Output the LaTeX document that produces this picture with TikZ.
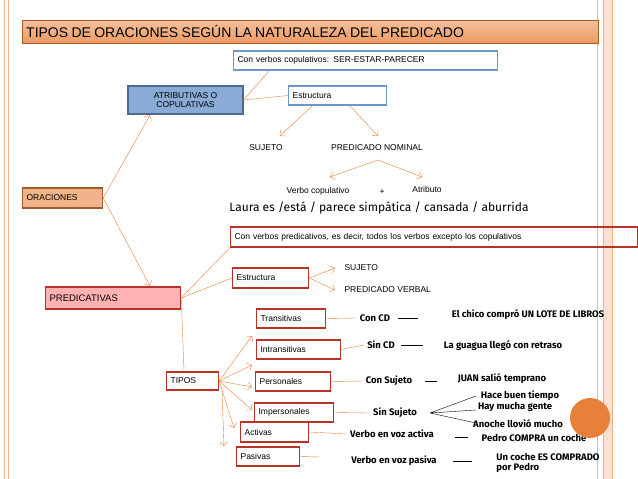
\documentclass[tikz,border=0pt]{standalone}
\usepackage{fontspec}
\setmainfont{Liberation Sans}
\newfontfamily\comic{Fira Sans}
\usetikzlibrary{arrows.meta}
\definecolor{org}{RGB}{232,128,58}
\definecolor{blu}{RGB}{110,150,205}
\definecolor{rd}{RGB}{185,50,40}
\begin{document}
\begin{tikzpicture}[x=1pt,y=-1pt,
 bx/.style={draw,line width=1.2pt,anchor=west,inner sep=2pt,font=\fontsize{8.5}{9.5}\selectfont},
 bb/.style={bx,draw=blu},
 rb/.style={bx,draw=rd},
 lab/.style={font=\fontsize{8.5}{9.5}\selectfont},
 ex/.style={font=\comic\bfseries\fontsize{9.5}{10}\selectfont},
 ar/.style={draw=org,-{Straight Barb[length=4pt]}},
 ln/.style={draw=org},
 kl/.style={draw=black,thin}]
\useasboundingbox (0,0) rectangle (638,479);
\fill[white] (0,0) rectangle (638,479);
\draw[org!60,line width=1pt] (4,0)--(4,479) (8,0)--(8,479);
\fill[org!25] (603,0) rectangle (612,479);
\draw[org!60,line width=1pt] (597,0)--(597,479) (603,0)--(603,479) (612,0)--(612,479);
\node[draw=org!70!black,top color=org!50,bottom color=org!80,minimum width=576,minimum height=23,anchor=north west,inner sep=4pt,text width=568] (title) at (22,20) {\fontsize{14}{16}\selectfont TIPOS DE ORACIONES SEGÚN LA NATURALEZA DEL PREDICADO};
\node[bb,minimum width=264,minimum height=19,text width=256] (cop) at (233,60.5) {Con verbos copulativos: SER-ESTAR-PARECER};
\node[bx,draw=blu!70!black,fill=blu!80,minimum width=115,minimum height=28,align=center,anchor=center] (atr) at (185.5,100) {ATRIBUTIVAS O\\COPULATIVAS};
\node[bb,minimum width=98,minimum height=19,text width=90] (est) at (288,95.5) {Estructura};
\node[lab] (suj) at (266,148) {SUJETO};
\node[lab] (pn) at (377,148) {PREDICADO NOMINAL};
\node[lab] (vc) at (318,191) {Verbo copulativo};
\node[lab] at (382,192) {+};
\node[lab] (atb) at (427,189) {Atributo};
\node[font=\comic\fontsize{12}{13}\selectfont] (laura) at (379,208) {Laura es /está / parece simpática / cansada / aburrida};
\node[bx,draw=org!70!black,fill=org!60,minimum width=80,minimum height=20,text width=72] (or) at (22,198) {ORACIONES};
\node[rb,minimum width=407,minimum height=20,text width=399] (pred) at (230,237) {Con verbos predicativos, es decir, todos los verbos excepto los copulativos};
\node[bx,draw=rd,fill=red!30,minimum width=135,minimum height=22,text width=127,font=\fontsize{9.5}{10}\selectfont] (pv) at (45,298) {PREDICATIVAS};
\node[rb,minimum width=76,minimum height=20,text width=68] (est2) at (232,278) {Estructura};
\node[lab,anchor=west] (suj2) at (341,268) {SUJETO};
\node[lab,anchor=west] (pvb) at (341,290) {PREDICADO VERBAL};
\node[rb,minimum width=69,minimum height=19,text width=61] (tr) at (256,318.5) {Transitivas};
\node[rb,minimum width=84,minimum height=19,text width=76] (in) at (256,349.5) {Intransitivas};
\node[rb,minimum width=52,minimum height=18,text width=44] (tp) at (166,381) {TIPOS};
\node[rb,minimum width=75,minimum height=19,text width=67] (pe) at (255,381.5) {Personales};
\node[rb,minimum width=79,minimum height=19,text width=71] (im) at (254,412.5) {Impersonales};
\node[rb,minimum width=68,minimum height=20,text width=60] (ac) at (240,432) {Activas};
\node[rb,minimum width=63,minimum height=19,text width=55] (pa) at (236,456.5) {Pasivas};
\node[ex] (ccd) at (375,318) {Con CD};
\node[ex] (e1) at (528,315) {El chico compró UN LOTE DE LIBROS};
\node[ex] (scd) at (381,345) {Sin CD};
\node[ex] (e2) at (503,346) {La guagua llegó con retraso};
\node[ex] (cs) at (389,381) {Con Sujeto};
\node[ex] (e3) at (502,379) {JUAN salió temprano};
\node[ex] (ss) at (395,413) {Sin Sujeto};
\node[ex] (e4) at (520,396) {Hace buen tiempo};
\node[ex] (e5) at (515,407) {Hay mucha gente};
\node[ex] (e6) at (518,424) {Anoche llovió mucho};
\node[ex] (va) at (392,434) {Verbo en voz activa};
\node[ex] (e7) at (534,438) {Pedro COMPRA un coche};
\node[ex] (vp) at (394,461) {Verbo en voz pasiva};
\node[ex,align=left] (e8) at (548,463) {Un coche ES COMPRADO\\por Pedro};
\fill[org] (590,418) circle (20);
% connectors
\draw[ar] (or.east) -- (150,115);
\draw[ar] (or.east) -- (150,286);
\draw[ln] (atr.east) -- (270,70);
\draw[ln] (atr.east) -- (est.west);
\draw[ar] (312,106) -- (280,136);
\draw[ar] (350,106) -- (378,136);
\draw[ar] (378,160) -- (330,177);
\draw[ar] (378,160) -- (422,177);
\draw[ln] (pv.east) -- (pred.south west);
\draw[ln] (pv.east) -- (est2.west);
\draw[ln] (pv.east) -- (184,370);
\draw[ar] (est2.east) -- (335,268);
\draw[ar] (est2.east) -- (335,290);
\draw[ar] (tp.east) -- (252,336);
\draw[ar] (tp.east) -- (252,365);
\draw[ar] (tp.east) -- (252,387);
\draw[ar] (tp.east) -- (252,410);
\draw[ar] (tp.east) -- (234,428);
\draw[ar] (222,391) -- (224,446);
\draw[ln] (tr.east) -- (ccd.west);
\draw[kl] (398,318) -- (418,318);
\draw[ln] (in.east) -- (scd.west);
\draw[kl] (401,345) -- (423,345);
\draw[ln] (pe.east) -- (cs.west);
\draw[kl] (425,381) -- (437,381);
\draw[ln] (im.east) -- (ss.west);
\draw[kl] (430,413) -- (476,396) (430,413) -- (476,410) (430,413) -- (476,423);
\draw[ln] (ac.east) -- (va.west);
\draw[kl] (455,437) -- (468,437);
\draw[ln] (pa.east) -- (320,457);
\draw[kl] (453,461) -- (472,461);
\end{tikzpicture}
\end{document}
